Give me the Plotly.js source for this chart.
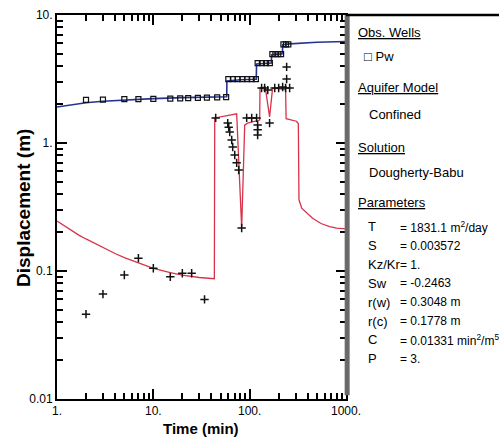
<!DOCTYPE html>
<html>
<head>
<meta charset="utf-8">
<script src="https://cdn.plot.ly/plotly-3.0.1.min.js"></script>
<style>html,body{margin:0;padding:0;background:#fff}#chart{width:499px;height:439px}.modebar-container{display:none !important}</style>
</head>
<body>
<div id="chart"></div>
<script>
// ---- data ----
const modelPwTime = [1, 1.5, 2, 3, 5, 10, 20, 40, 57.8, 58, 80, 117, 118, 168, 169, 219, 220, 260, 350, 500, 1000];
const modelPwDisp = [1.91, 2.0, 2.06, 2.12, 2.17, 2.22, 2.26, 2.29, 2.3, 3.05, 3.12, 3.15, 4.15, 4.22, 4.9, 4.97, 5.85, 5.95, 6.05, 6.12, 6.2];

const obsPwTime = [2, 3, 5, 7, 10, 15, 19, 23, 29, 36, 46, 57,
  60, 67, 75, 84, 94, 105, 116,
  121, 134, 148, 162,
  172, 185, 198, 212,
  224, 238, 252];
const obsPwDisp = [2.17, 2.18, 2.2, 2.2, 2.21, 2.22, 2.23, 2.24, 2.25, 2.26, 2.27, 2.28,
  3.15, 3.15, 3.15, 3.15, 3.15, 3.15, 3.15,
  4.2, 4.2, 4.2, 4.2,
  4.95, 4.95, 4.95, 4.95,
  5.9, 5.9, 5.9];

const modelRedTime = [1, 1.3, 1.7, 2, 2.5, 3, 4, 5, 7, 10, 15, 20, 30, 43, 43.4, 73.3, 82.6, 88.8, 95, 127, 128, 145, 161, 173, 220, 236, 239, 305, 320, 325, 347, 400, 450, 550, 675, 800, 1000];
const modelRedDisp = [0.246, 0.215, 0.19, 0.178, 0.163, 0.152, 0.137, 0.127, 0.115, 0.105, 0.097, 0.093, 0.089, 0.087, 1.57, 1.69, 0.217, 1.38, 1.43, 1.51, 2.69, 2.74, 1.6, 2.69, 2.64, 2.62, 1.55, 1.48, 1.42, 0.36, 0.31, 0.28, 0.258, 0.235, 0.222, 0.216, 0.213];

const obsRedTime = [2, 3, 5, 7, 10, 15, 20, 25, 34,
  44.4, 59.2, 60.6, 62.1, 65.1, 66.7, 70, 73.3, 76.9, 82.6,
  93.1, 105, 118, 121, 121, 121, 161,
  133, 143, 154, 182, 200, 220, 236, 260, 242, 242];
const obsRedDisp = [0.046, 0.066, 0.093, 0.126, 0.105, 0.090, 0.096, 0.096, 0.060,
  1.57, 1.43, 1.33, 1.22, 1.055, 0.93, 0.806, 0.70, 0.615, 0.217,
  1.57, 1.57, 1.57, 1.38, 1.27, 1.155, 1.43,
  2.69, 2.69, 2.59, 2.69, 2.69, 2.74, 2.69, 2.69, 3.16, 3.93];

const xTickVals = [1, 10, 100, 1000];
const xTickText = ['1.', '10.', '100.', '1000.'];
const yTickVals = [0.01, 0.1, 1, 10];
const yTickText = ['0.01', '0.1', '1.', '10.'];
const xTitle = 'Time (min)';
const yTitle = 'Displacement (m)';

const legendHeads = ['Obs. Wells', 'Aquifer Model', 'Solution', 'Parameters'];
const legendItems = ['\u25A1 Pw', 'Confined', 'Dougherty-Babu'];
const paramNames = ['T', 'S', 'Kz/Kr', 'Sw', 'r(w)', 'r(c)', 'C', 'P'];
const paramValues = ['= 1831.1 m<sup>2</sup>/day', '= 0.003572', '= 1.', '= -0.2463', '= 0.3048 m', '= 0.1778 m', '= 0.01331 min<sup>2</sup>/m<sup>5</sup>', '= 3.'];

// ---- layout helpers ----
const W = 499, H = 439, L = 57, R = 346, T = 15, B = 399;
const px = p => (p - L) / (R - L);
const py = p => (B - p) / (B - T);
const FONT = '"Liberation Sans", Arial, sans-serif';

function allTicks(lo, hi) {
  const v = [];
  for (let d = lo; d < hi; d++) for (let k = 1; k <= 9; k++) v.push(k * Math.pow(10, d));
  v.push(Math.pow(10, hi));
  return v;
}
function labelsFor(vals, majors, texts) {
  return vals.map(v => {
    const i = majors.findIndex(m => Math.abs(m - v) / m < 1e-9);
    return i >= 0 ? texts[i] : '';
  });
}
const xAll = allTicks(0, 3), yAll = allTicks(-2, 1);

const traces = [
  {x: modelRedTime, y: modelRedDisp, mode: 'lines', line: {color: '#d8324a', width: 1.3}, hoverinfo: 'skip', showlegend: false},
  {x: modelPwTime, y: modelPwDisp, mode: 'lines', line: {color: '#26338f', width: 1.6}, hoverinfo: 'skip', showlegend: false},
  {x: obsPwTime, y: obsPwDisp, mode: 'markers', marker: {symbol: 'square-open', size: 5, color: '#111', line: {width: 1.2, color: '#111'}}, showlegend: false},
  {x: obsRedTime, y: obsRedDisp, mode: 'markers', marker: {symbol: 'cross-thin-open', size: 6, color: '#111', line: {width: 1.5, color: '#111'}}, showlegend: false},
  {x: [xTickVals[1]], y: [yTickVals[1]], xaxis: 'x2', yaxis: 'y2', mode: 'markers', marker: {opacity: 0}, hoverinfo: 'skip', showlegend: false}
];

const ann = (text, xp, yp, size, extra) => Object.assign({text: text, x: px(xp), y: py(yp), xref: 'paper', yref: 'paper', xanchor: 'left', yanchor: 'middle', showarrow: false, font: {family: FONT, size: size, color: '#000'}}, extra || {});
const annotations = [];
const headY = [32, 88, 147, 202];
legendHeads.forEach((t, i) => annotations.push(ann('<u>' + t + '</u>', 356, headY[i], 13)));
const itemY = [56, 115, 172];
const itemX = [362, 367, 367];
legendItems.forEach((t, i) => annotations.push(ann(t, itemX[i], itemY[i], 13)));
paramNames.forEach((t, i) => {
  const yy = 227 + 18.8 * i;
  annotations.push(ann(t, 366, yy, 13));
  annotations.push(ann(paramValues[i], 398, yy, 12));
});
annotations.push(ann('<b>' + xTitle + '</b>', 201, 428, 15, {xanchor: 'center'}));
annotations.push(ann('<b>' + yTitle + '</b>', 23, 208, 19, {xanchor: 'center', textangle: -90}));

const layout = {
  width: W, height: H,
  margin: {l: L, r: W - R, t: T, b: H - B},
  font: {family: FONT, size: 12, color: '#000'},
  xaxis: {
    type: 'log', range: [0, 3], tickmode: 'array', tickvals: xAll, ticktext: labelsFor(xAll, xTickVals, xTickText),
    showgrid: false,
    showline: true, linecolor: '#000', linewidth: 2, mirror: 'allticks',
    ticks: 'inside', ticklen: 6, tickwidth: 1.5, tickcolor: '#000'
  },
  yaxis: {
    type: 'log', range: [-2, 1], tickmode: 'array', tickvals: yAll, ticktext: labelsFor(yAll, yTickVals, yTickText),
    showgrid: false,
    showline: true, linecolor: '#000', linewidth: 2, mirror: 'allticks',
    ticks: 'inside', ticklen: 6, tickwidth: 1.5, tickcolor: '#000'
  },
  xaxis2: {
    type: 'log', overlaying: 'x', range: [0, 3], tickmode: 'array', tickvals: xTickVals, showticklabels: false,
    showgrid: false, showline: false, mirror: 'allticks',
    ticks: 'inside', ticklen: 10, tickwidth: 1.5, tickcolor: '#000'
  },
  yaxis2: {
    type: 'log', overlaying: 'y', range: [-2, 1], tickmode: 'array', tickvals: yTickVals, showticklabels: false,
    showgrid: false, showline: false, mirror: 'allticks',
    ticks: 'inside', ticklen: 10, tickwidth: 1.5, tickcolor: '#000'
  },
  shapes: [
    {type: 'line', xref: 'paper', yref: 'paper', x0: 1.004, x1: 1.004, y0: 0.01, y1: 1, line: {color: '#6a6a6a', width: 5}},
    {type: 'line', xref: 'paper', yref: 'paper', x0: 1, x1: px(W + 5), y0: 1, y1: 1, line: {color: '#000', width: 2.5}}
  ],
  annotations: annotations
};

Plotly.newPlot('chart', traces, layout);
</script>
</body>
</html>
